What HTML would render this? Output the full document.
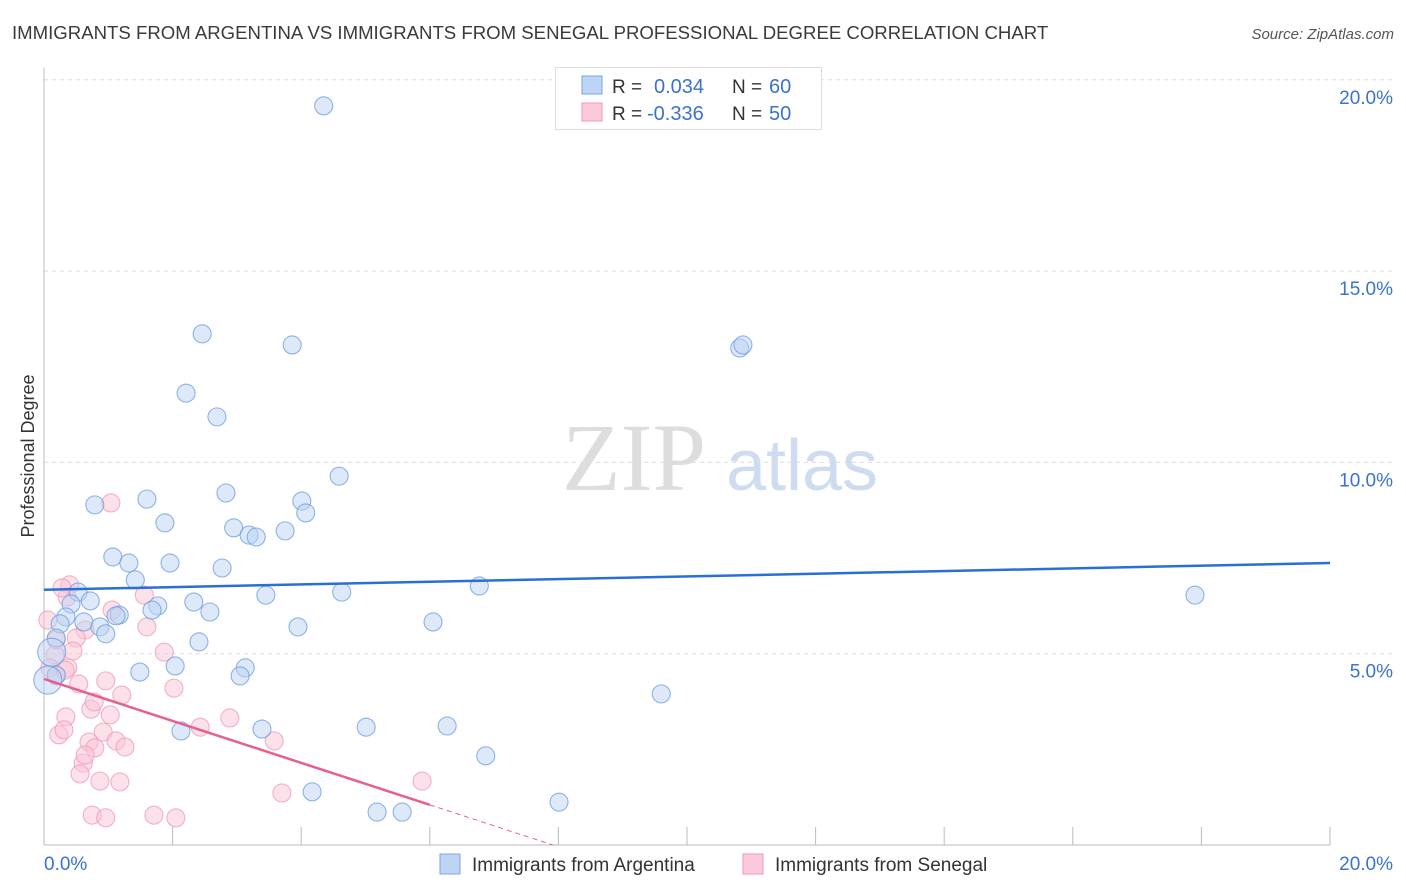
<!DOCTYPE html>
<html><head><meta charset="utf-8"><style>
body{margin:0;background:#fff;font-family:"Liberation Sans",sans-serif;}
svg{display:block}
</style></head><body>
<svg id="chart" width="1406" height="892">
<text x="12" y="39" font-size="18.6" fill="#3a3a3a">IMMIGRANTS FROM ARGENTINA VS IMMIGRANTS FROM SENEGAL PROFESSIONAL DEGREE CORRELATION CHART</text>
<text x="1394" y="39" font-size="15" fill="#555" font-style="italic" text-anchor="end">Source: ZipAtlas.com</text>
<text x="0" y="0" transform="translate(34,456) rotate(-90)" font-size="18" fill="#333" text-anchor="middle">Professional Degree</text>
<g><text x="634" y="490" font-size="96" font-family="Liberation Serif" fill="#ddd" text-anchor="middle">ZIP</text><text x="802" y="490" font-size="72" fill="#cfdcf0" text-anchor="middle">atlas</text></g>
<g id="grid"></g><g id="axes"></g><g id="pts"></g><g id="trend"></g>
<g>
<rect x="555.5" y="67.5" width="266" height="62" fill="#fff" stroke="#ddd"/>
<rect x="582" y="76" width="20" height="18" fill="#bcd5f5" stroke="#7aa7e0"/>
<rect x="582" y="103" width="20" height="18" fill="#fcc9d8" stroke="#ef9ab5"/>
<text x="612" y="93" font-size="19" fill="#333">R = </text><text x="654" y="93" font-size="20" fill="#3a72d0">0.034</text>
<text x="732" y="93" font-size="19" fill="#333">N = </text><text x="769" y="93" font-size="20" fill="#3a72d0">60</text>
<text x="612" y="120" font-size="19" fill="#333">R = </text><text x="647" y="120" font-size="20" fill="#3a72d0">-0.336</text>
<text x="732" y="120" font-size="19" fill="#333">N = </text><text x="769" y="120" font-size="20" fill="#3a72d0">50</text>
</g>
<g>
<rect x="440" y="854" width="20" height="20" fill="#bcd5f5" stroke="#7aa7e0"/>
<text x="472" y="871" font-size="19" fill="#333">Immigrants from Argentina</text>
<rect x="743" y="854" width="20" height="20" fill="#fcc9d8" stroke="#ef9ab5"/>
<text x="775" y="871" font-size="19" fill="#333">Immigrants from Senegal</text>
</g>
</svg>
<script>
const yTicks=[5,10,15,20];
const yTickLabels=["5.0%","10.0%","15.0%","20.0%"];
const xTickLabels=["0.0%","20.0%"];
const argX=[4.35,2.46,3.86,10.82,10.87,2.21,2.69,4.59,1.60,2.83,0.79,4.01,4.07,1.88,2.95,3.19,3.30,3.75,1.07,1.32,1.96,2.77,1.42,6.77,17.90,3.45,4.63,0.53,0.42,0.72,2.33,1.77,1.68,2.58,1.17,0.34,1.12,0.62,6.05,0.25,3.95,0.87,0.96,0.19,2.41,0.12,2.04,3.13,3.05,1.49,0.19,0.06,9.60,2.13,3.39,5.01,6.27,6.87,4.17,8.01,5.18,5.57];
const argY=[19.32,13.36,13.07,12.99,13.07,11.81,11.19,9.64,9.04,9.20,8.89,8.99,8.68,8.42,8.29,8.10,8.05,8.21,7.53,7.37,7.37,7.24,6.93,6.77,6.53,6.53,6.61,6.61,6.30,6.38,6.35,6.25,6.14,6.09,6.01,5.96,5.99,5.83,5.83,5.78,5.70,5.70,5.52,5.41,5.31,5.04,4.68,4.63,4.42,4.52,4.44,4.31,3.95,2.98,3.03,3.08,3.11,2.33,1.39,1.12,0.86,0.86];
const senX=[1.04,0.40,1.56,1.06,0.36,1.60,0.06,0.64,0.50,1.87,0.45,0.17,0.37,0.09,0.19,0.33,0.54,2.02,0.96,1.21,0.73,0.78,1.03,2.89,2.43,0.34,0.23,0.92,0.31,0.70,1.12,0.79,1.26,3.58,0.61,0.64,0.56,1.18,0.87,5.88,3.70,0.75,0.96,1.71,2.05,0.28,0.19];
const senY=[8.94,6.80,6.53,6.14,6.48,5.70,5.88,5.62,5.41,5.04,5.07,4.97,4.63,4.63,4.42,4.57,4.21,4.10,4.29,3.92,3.55,3.74,3.40,3.32,3.08,3.35,2.88,2.95,3.01,2.69,2.72,2.54,2.56,2.72,2.14,2.35,1.86,1.65,1.67,1.67,1.36,0.78,0.71,0.78,0.71,6.72,5.36];
const argTrend=[6.67,7.37];
const senTrend=[4.34,1.05];
const X=v=>44+v/20*1286, Y=v=>845-v/5*191.3;
const NS="http://www.w3.org/2000/svg";
function mk(t,a,p){const e=document.createElementNS(NS,t);for(const k in a)e.setAttribute(k,a[k]);p.appendChild(e);return e;}
const g=document.getElementById('grid'),ax=document.getElementById('axes'),pts=document.getElementById('pts'),tr=document.getElementById('trend');
yTicks.forEach((v,i)=>{
 const l=mk('line',{x1:44,x2:1392,y1:Y(v),y2:Y(v),stroke:'#ddd','stroke-dasharray':'4,4'},g);
 
 
 const t=mk('text',{x:1393,y:Y(v)+24,'font-size':19,fill:'#3a72d0','text-anchor':'end'},ax);t.textContent=yTickLabels[i];
 
 
});
const a1=mk('line',{x1:44,x2:44,y1:68,y2:845,stroke:'#bbb'},ax);


const a2=mk('line',{x1:44,x2:1330,y1:845,y2:845,stroke:'#bbb'},ax);


for(let i=1;i<=10;i++){const tk=mk('line',{x1:X(i*2),x2:X(i*2),y1:827,y2:845,stroke:'#bbb'},ax);
 
 }
[[0,'start',44],[20,'end',1393]].forEach((d,i)=>{const t=mk('text',{x:d[2],y:870,'font-size':19,fill:'#3a72d0','text-anchor':d[1]},ax);t.textContent=xTickLabels[i];
 
 });
function dots(xs,ys,fill,stroke,name){xs.forEach((x,i)=>{const big=(x<0.15&&ys[i]>4&&ys[i]<5.2&&name=='argentina-point');
 const c=mk('circle',{cx:X(x),cy:Y(ys[i]),r:big?14:9,fill:fill,'fill-opacity':0.5,stroke:stroke,'stroke-opacity':0.75,'stroke-width':1.1},pts);
 
 });}
dots(senX,senY,'#fac4d4','#ef98b5','senegal-point');
dots(argX,argY,'#bcd4f3','#6b9be0','argentina-point');
const bl=mk('line',{x1:X(0),y1:Y(argTrend[0]),x2:X(20),y2:Y(argTrend[1]),stroke:'#2a6fd6','stroke-width':2.5},tr);


const sl=(senTrend[1]-senTrend[0])/6;
const pl=mk('line',{x1:X(0),y1:Y(senTrend[0]),x2:X(6),y2:Y(senTrend[1]),stroke:'#e5608c','stroke-width':2.5},tr);


const xe=-senTrend[0]/sl;
const pd=mk('line',{x1:X(6),y1:Y(senTrend[1]),x2:X(xe),y2:Y(0),stroke:'#e5608c','stroke-width':1,'stroke-dasharray':'5,4'},tr);


</script>
</body></html>
